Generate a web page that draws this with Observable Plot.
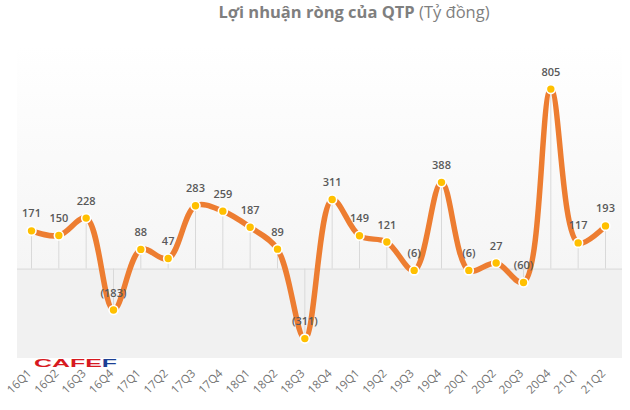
<!DOCTYPE html>
<html>
<head>
<meta charset="utf-8">
<script src="https://cdn.jsdelivr.net/npm/d3@7"></script>
<script src="https://cdn.jsdelivr.net/npm/@observablehq/plot@0.6"></script>
<style>
  html, body { margin: 0; padding: 0; background: #fff; }
  #wrap { position: relative; width: 630px; height: 410px; overflow: hidden; }
  #title { height: 28px; line-height: 24px; text-align: center; padding-left: 78px; box-sizing: border-box; width: 630px; font-family: "Open Sans", sans-serif; font-size: 16.5px; color: #7f7f7f; white-space: nowrap; }
  #title b { font-weight: 700; }
  #chart svg { display: block; }
</style>
</head>
<body>
<div id="wrap">
  <div id="title"><b>Lợi nhuận ròng của QTP</b> (Tỷ đồng)</div>
  <div id="chart"></div>
</div>
<script>
const quarters = ["16Q1","16Q2","16Q3","16Q4","17Q1","17Q2","17Q3","17Q4","18Q1","18Q2","18Q3","18Q4","19Q1","19Q2","19Q3","19Q4","20Q1","20Q2","20Q3","20Q4","21Q1","21Q2"];
const profit = [171,150,228,-183,88,47,283,259,187,89,-311,311,149,121,-6,388,-6,27,-60,805,117,193];

const data = quarters.map((q, i) => ({q, v: profit[i]}));
const fmt = v => v < 0 ? `(${-v})` : `${v}`;

const W = 630, H = 382;
const mL = 17, mR = 8, mT = 17, mB = 52;

function background(index, scales, values, dims) {
  const ns = "http://www.w3.org/2000/svg";
  const g = document.createElementNS(ns, "g");
  const defs = document.createElementNS(ns, "defs");
  defs.innerHTML = `<linearGradient id="bgGrad" x1="0" y1="0" x2="0" y2="1">
      <stop offset="0" stop-color="#ffffff"/>
      <stop offset="1" stop-color="#f5f5f5"/>
    </linearGradient>`;
  g.appendChild(defs);
  const x0 = dims.marginLeft, x1 = dims.width - dims.marginRight;
  const y0 = dims.marginTop, y1 = dims.height - dims.marginBottom;
  const yz = scales.y(0);
  const r1 = document.createElementNS(ns, "rect");
  r1.setAttribute("x", x0); r1.setAttribute("y", y0);
  r1.setAttribute("width", x1 - x0); r1.setAttribute("height", yz - y0);
  r1.setAttribute("fill", "url(#bgGrad)");
  const r2 = document.createElementNS(ns, "rect");
  r2.setAttribute("x", x0); r2.setAttribute("y", yz);
  r2.setAttribute("width", x1 - x0); r2.setAttribute("height", y1 - yz);
  r2.setAttribute("fill", "#f1f1f1");
  g.appendChild(r1); g.appendChild(r2);
  return g;
}

const chart = Plot.plot({
  width: W, height: H,
  marginLeft: mL, marginRight: mR, marginTop: mT, marginBottom: mB,
  style: { fontFamily: "Open Sans, sans-serif", background: "transparent" },
  x: { type: "point", domain: quarters, padding: 0, round: false, insetLeft: 14, insetRight: 17, label: null },
  y: { domain: [-400, 1000], axis: null },
  marks: [
    background,
    Plot.ruleY([0], { stroke: "#d9d9d9", strokeWidth: 1 }),
    Plot.ruleX(data, { x: "q", y1: 0, y2: "v", stroke: "#d9d9d9", strokeWidth: 1 }),
    Plot.line(data, { x: "q", y: "v", curve: "catmull-rom", stroke: "#ed7d31", strokeWidth: 5.5, strokeLinecap: "butt" }),
    Plot.dot(data, { x: "q", y: "v", r: 4.5, fill: "#ffc000", stroke: "#ffffff", strokeWidth: 1.6 }),
    Plot.text(data, { x: "q", y: "v", text: d => fmt(d.v), dy: -17, fill: "#595959", fontSize: 11, fontWeight: 600 }),
    Plot.axisX({ tickSize: 0, tickPadding: 13, tickRotate: -45, fontSize: 11.5, color: "#737373", fill: "#737373", dx: -2 })
  ]
});
document.getElementById("chart").appendChild(chart);

// CAFEF logo
const ns = "http://www.w3.org/2000/svg";
const logo = document.createElementNS(ns, "text");
logo.setAttribute("x", 34);
logo.setAttribute("y", 339);
logo.setAttribute("text-anchor", "start");
logo.setAttribute("textLength", 83);
logo.setAttribute("lengthAdjust", "spacingAndGlyphs");
logo.setAttribute("font-family", "Liberation Sans, Arial, sans-serif");
logo.setAttribute("font-weight", "900");
logo.setAttribute("font-size", "11");
logo.innerHTML = `<tspan fill="#d71920">CAFE</tspan><tspan fill="#1c3f94">F</tspan>`;
chart.appendChild(logo);
</script>
</body>
</html>
